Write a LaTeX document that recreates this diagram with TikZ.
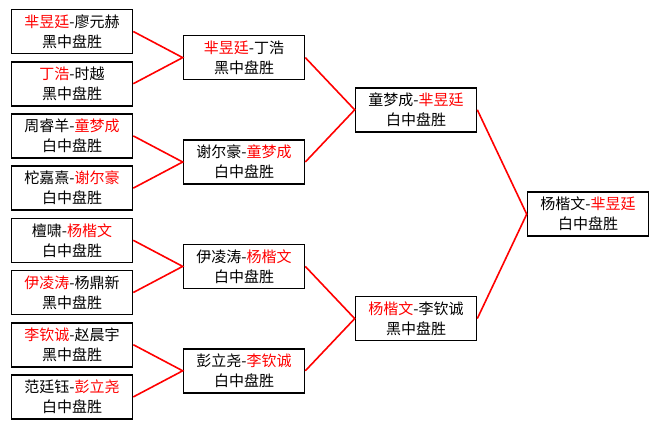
\documentclass[tikz,border=0pt]{standalone}
\usepackage{fontspec}
\setmainfont{Noto Sans CJK SC}
\usetikzlibrary{positioning}
\usetikzlibrary{calc}
\tikzset{
	game/.style={draw, rectangle, line width=1.6pt, minimum width=121pt, minimum height=44pt, inner sep=1pt, align=center, font=\fontsize{15}{20}\selectfont, fill=white},
	link/.style={red, line width=1.6pt},
}
\newcommand{\winner}[1]{\textcolor{red}{#1}}

\begin{document}
\begin{tikzpicture}[x=1pt, y=-1pt]
		\useasboundingbox (0,0) rectangle (660,429);
		
		% first round
		\node (g1) [game] at (72,31.5) {\winner{芈昱廷}-廖元赫\\黑中盘胜};
		\node (g2) [game, below=6.6pt of g1] {\winner{丁浩}-时越\\黑中盘胜};
		\node (g3) [game, below=6.6pt of g2] {周睿羊-\winner{童梦成}\\白中盘胜};
		\node (g4) [game, below=6.6pt of g3] {柁嘉熹-\winner{谢尔豪}\\白中盘胜};
		\node (g5) [game, below=6.6pt of g4] {檀啸-\winner{杨楷文}\\白中盘胜};
		\node (g6) [game, below=6.6pt of g5] {\winner{伊凌涛}-杨鼎新\\黑中盘胜};
		\node (g7) [game, below=6.6pt of g6] {\winner{李钦诚}-赵晨宇\\黑中盘胜};
		\node (g8) [game, below=6.6pt of g7] {范廷钰-\winner{彭立尧}\\白中盘胜};
		
		% quarter finals
		\node (q1) [game] at ($(g1)!0.5!(g2)+(172,0)$) {\winner{芈昱廷}-丁浩\\黑中盘胜};
		\node (q2) [game] at ($(g3)!0.5!(g4)+(172,0)$) {谢尔豪-\winner{童梦成}\\白中盘胜};
		\node (q3) [game] at ($(g5)!0.5!(g6)+(172,0)$) {伊凌涛-\winner{杨楷文}\\白中盘胜};
		\node (q4) [game] at ($(g7)!0.5!(g8)+(172,0)$) {彭立尧-\winner{李钦诚}\\白中盘胜};
		
		% semi finals and final
		\node (s1) [game] at ($(q1)!0.5!(q2)+(172,0)$) {童梦成-\winner{芈昱廷}\\白中盘胜};
		\node (s2) [game] at ($(q3)!0.5!(q4)+(172,0)$) {\winner{杨楷文}-李钦诚\\黑中盘胜};
		\node (f) [game] at ($(s1)!0.5!(s2)+(172,0)$) {杨楷文-\winner{芈昱廷}\\白中盘胜};
		
		\begin{scope}[link]
			\draw (g1.east) -- (q1.west) -- (g2.east);
			\draw (g3.east) -- (q2.west) -- (g4.east);
			\draw (g5.east) -- (q3.west) -- (g6.east);
			\draw (g7.east) -- (q4.west) -- (g8.east);
			\draw (q1.east) -- (s1.west) -- (q2.east);
			\draw (q3.east) -- (s2.west) -- (q4.east);
			\draw (s1.east) -- (f.west) -- (s2.east);
		\end{scope}
		
	\end{tikzpicture}
\end{document}
